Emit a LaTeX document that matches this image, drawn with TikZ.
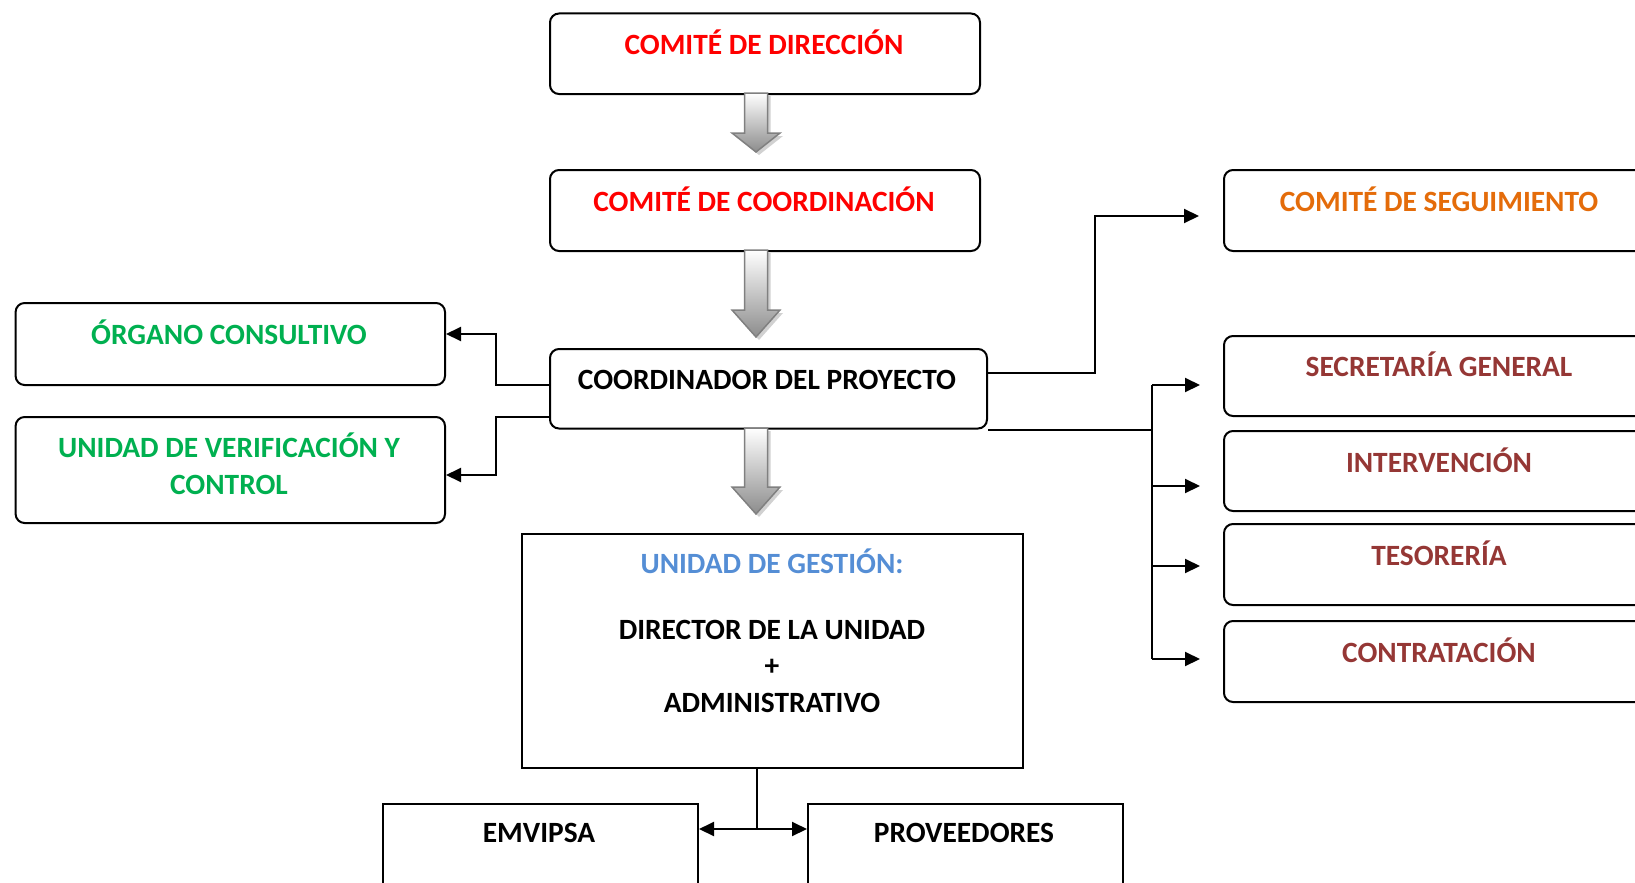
\documentclass[tikz,border=0pt]{standalone}
\usepackage{fontspec}
\setmainfont{Carlito}
\usetikzlibrary{arrows.meta,calc}
\definecolor{cred}{RGB}{255,0,0}
\definecolor{corange}{RGB}{228,108,10}
\definecolor{cgreen}{RGB}{0,176,80}
\definecolor{cdred}{RGB}{149,55,53}
\definecolor{cblue}{RGB}{85,142,213}
\newcommand\blkarrow[3]{%
  \fill[black!18] (747.5,#1+3) -- (770.5,#1+3) -- (770.5,#2+3) -- (783,#2+3) -- (759,#3+3) -- (735,#2+3) -- (747.5,#2+3) -- cycle;
  \shadedraw[top color=white, bottom color=black!45, draw=black!50, line width=1.5pt, line join=miter]
    (744.5,#1) -- (767.5,#1) -- (767.5,#2) -- (780,#2) -- (756,#3) -- (732,#2) -- (744.5,#2) -- cycle;}
\begin{document}
\begin{tikzpicture}[x=1pt,y=-1pt,
  rbox/.style={draw, line width=2pt, rounded corners=9pt, minimum width=430pt, minimum height=80pt, anchor=north west, inner sep=0pt},
  sbox/.style={draw, line width=2pt, anchor=north west, inner sep=0pt},
  lbl/.style={font=\fontsize{29.4}{36.5}\selectfont\bfseries, align=center, inner sep=0pt},
  line/.style={line width=2pt},
  conn/.style={line width=2pt, -{Triangle[length=15pt,width=14pt]}},
  dconn/.style={line width=2pt, {Triangle[length=15pt,width=14pt]}-{Triangle[length=15pt,width=14pt]}}
]
\useasboundingbox (0,0) rectangle (1635,883);
\clip (0,0) rectangle (1635,883);
% boxes
\node[rbox, minimum height=80.5pt] (dir) at (549,12.5) {};
\node[rbox, minimum height=81pt] (coo) at (549,169) {};
\node[rbox, minimum width=437pt, minimum height=79.5pt] (cp) at (549,348) {};
\node[rbox, minimum width=429.4pt, minimum height=82pt] (org) at (14.6,302) {};
\node[rbox, minimum width=429.4pt, minimum height=106pt] (uvc) at (14.6,416) {};
\node[rbox, minimum width=432pt, minimum height=81pt] (seg) at (1223,169) {};
\node[rbox, minimum width=432pt, minimum height=80pt] (sec) at (1223,335) {};
\node[rbox, minimum width=432pt, minimum height=80pt] (int) at (1223,430) {};
\node[rbox, minimum width=432pt, minimum height=81pt] (tes) at (1223,523) {};
\node[rbox, minimum width=432pt, minimum height=81pt] (con) at (1223,620) {};
\node[sbox, minimum width=501pt, minimum height=234pt] (ug) at (521,533) {};
\node[sbox, minimum width=315pt, minimum height=90pt] (emv) at (382,803) {};
\node[sbox, minimum width=315pt, minimum height=90pt] (pro) at (807,803) {};
% texts
\node[lbl, text=cred] (tdir) at (764,42) {COMITÉ DE DIRECCIÓN};
\node[lbl, text=cred] (tcoo) at (764,199) {COMITÉ DE COORDINACIÓN};
\node[lbl] (tcp) at (767,380) {COORDINADOR DEL PROYECTO};
\node[lbl, text=cgreen] (torg) at (229,332) {ÓRGANO CONSULTIVO};
\node[lbl, text=cgreen] (tuvc) at (229,463.5) {UNIDAD DE VERIFICACIÓN Y\\CONTROL};
\node[lbl, text=corange] (tseg) at (1439,199) {COMITÉ DE SEGUIMIENTO};
\node[lbl, text=cdred] (tsec) at (1439,364) {SECRETARÍA GENERAL};
\node[lbl, text=cdred] (tint) at (1439,460) {INTERVENCIÓN};
\node[lbl, text=cdred] (ttes) at (1439,553) {TESORERÍA};
\node[lbl, text=cdred] (tcon) at (1439,650) {CONTRATACIÓN};
\node[lbl, text=cblue] (tug1) at (772,561) {UNIDAD DE GESTIÓN:};
\node[lbl] (tug2) at (772,666) {DIRECTOR DE LA UNIDAD\\+\\ADMINISTRATIVO};
\node[lbl] (temv) at (539,833) {EMVIPSA};
\node[lbl] (tpro) at (964,833) {PROVEEDORES};
% block arrows
\blkarrow{93}{133}{152}
\blkarrow{250}{310}{337}
\blkarrow{428}{487}{514}
% connectors left
\draw[conn] ([yshift=4pt]cp.west) -- ++(-53,0) |- ([yshift=10pt]org.east);
\draw[conn] ([yshift=-28pt]cp.west) -- ++(-53,0) |- ([yshift=-5pt]uvc.east);
% connector to seguimiento
\draw[conn] ([yshift=16pt]cp.east) -- ++(107,0) |- ([xshift=-24pt,yshift=-5.5pt]seg.west);
% bus to right column
\coordinate (busx) at (1152,0);
\coordinate (a1) at ([xshift=-23pt,yshift=-9pt]sec.west);
\coordinate (a2) at ([xshift=-23pt,yshift=-15pt]int.west);
\coordinate (a3) at ([xshift=-23pt,yshift=-1.5pt]tes.west);
\coordinate (a4) at ([xshift=-23pt,yshift=2.5pt]con.west);
\draw[line] (cp.south east) -- (cp.south east -| busx);
\draw[line] (a1 -| busx) -- (a4 -| busx);
\draw[conn] (a1 -| busx) -- (a1);
\draw[conn] (a2 -| busx) -- (a2);
\draw[conn] (a3 -| busx) -- (a3);
\draw[conn] (a4 -| busx) -- (a4);
% bottom
\coordinate (bx) at (757,0);
\coordinate (bj) at ([yshift=20pt]emv.east -| bx);
\draw[line] (ug.south -| bx) -- (bj);
\draw[dconn] ([yshift=20pt]emv.east) -- ([yshift=20pt]pro.west);
\end{tikzpicture}
\end{document}
